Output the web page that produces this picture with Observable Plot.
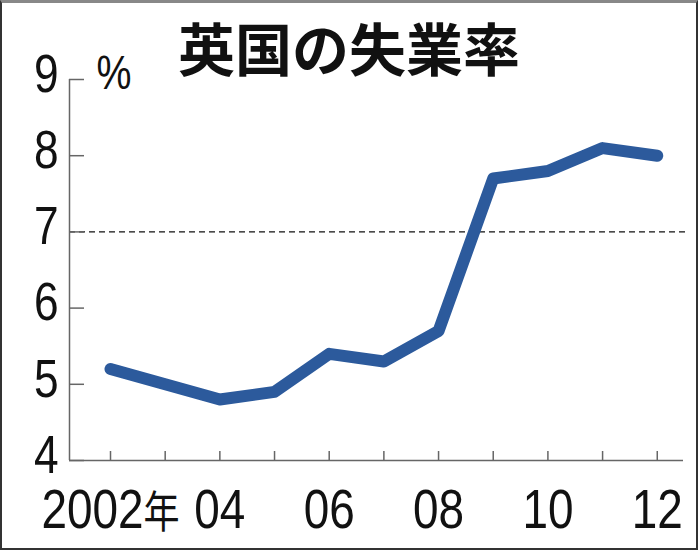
<!DOCTYPE html>
<html><head><meta charset="utf-8">
<script src="https://cdn.jsdelivr.net/npm/d3@7"></script>
<script src="https://cdn.jsdelivr.net/npm/@observablehq/plot@0.6"></script>
<style>
html,body{margin:0;padding:0;background:#fff;}
#wrap{position:relative;width:698px;height:550px;overflow:hidden;}
#title{position:absolute;left:0;top:14px;width:698px;text-align:center;font-family:"Noto Sans CJK JP",sans-serif;font-weight:700;font-size:57px;line-height:64px;color:#111;}
#frame{position:absolute;left:0;top:0;width:698px;height:550px;box-sizing:border-box;border:2px solid #333;border-top:3px solid #888;pointer-events:none;}
</style></head>
<body><div id="wrap"><div id="title">英国の失業率</div><div id="chart"></div><div id="frame"></div></div>
<script>
const years = [2002, 2003, 2004, 2005, 2006, 2007, 2008, 2009, 2010, 2011, 2012];
const rates = [5.2, 5.0, 4.8, 4.9, 5.4, 5.3, 5.7, 7.7, 7.8, 8.1, 8.0];
const yTicks = [4, 5, 6, 7, 8, 9];
const xLabelYears = [2002, 2004, 2006, 2008, 2010, 2012];
const xLabels = ["2002年", "04", "06", "08", "10", "12"];
const refLine = 7;

const data = years.map((y, i) => ({year: y, rate: rates[i]}));
const font = '"Liberation Sans",Arial,sans-serif';

const chart = Plot.plot({
  width: 698, height: 550,
  marginLeft: 69, marginRight: 15, marginTop: 79, marginBottom: 90,
  style: {fontFamily: font, background: "transparent", overflow: "visible"},
  x: {domain: [2001.25, 2012.48]},
  y: {domain: [4, 9]},
  marks: [
    Plot.ruleY([refLine], {stroke: "#111", strokeWidth: 1.3, strokeDasharray: "6,4", insetRight: -4}),
    Plot.ruleX([2001.25], {y1: 4, y2: 9, stroke: "#666", strokeWidth: 1.5}),
    Plot.ruleY([4], {stroke: "#666", strokeWidth: 1.5}),
    Plot.axisY({ticks: yTicks, tickSize: -15, text: null, stroke: "#666", strokeWidth: 1.5, label: null}),
    Plot.axisY({ticks: yTicks, tickSize: 0, tickPadding: 11, tickFormat: d => String(d), fontSize: 54, fill: "#111", label: null, dy: -5}),
    Plot.axisX({ticks: years, tickSize: -9, text: null, stroke: "#666", strokeWidth: 1.5, label: null}),
    Plot.axisX({ticks: xLabelYears, tickSize: 0, tickPadding: 28, tickFormat: d => xLabels[xLabelYears.indexOf(d)], fontSize: 56, fill: "#111", label: null, textAnchor: "middle"}),
    Plot.text(["%"], {x: 2001.25, y: 9, dx: 27, dy: -6, textAnchor: "start", fontSize: 48, fill: "#111", fontFamily: font}),
    Plot.line(data, {x: "year", y: "rate", stroke: "#2c5a9c", strokeWidth: 12, strokeLinecap: "round", strokeLinejoin: "round"})
  ]
});
// condense the digit glyphs horizontally (narrow typeface look)
d3.select(chart).selectAll("text").each(function() {
  const t = this.getAttribute("transform");
  if (t) this.setAttribute("transform", t + " scale(0.82,1)");
  if (this.textContent === "2002年") {
    const s = d3.select(this);
    s.text(null);
    s.append("tspan").text("2002");
    s.append("tspan").attr("font-size", 44).attr("font-family", '"Noto Sans CJK JP",sans-serif').text("年");
  }
});
document.getElementById("chart").appendChild(chart);
</script></body></html>
